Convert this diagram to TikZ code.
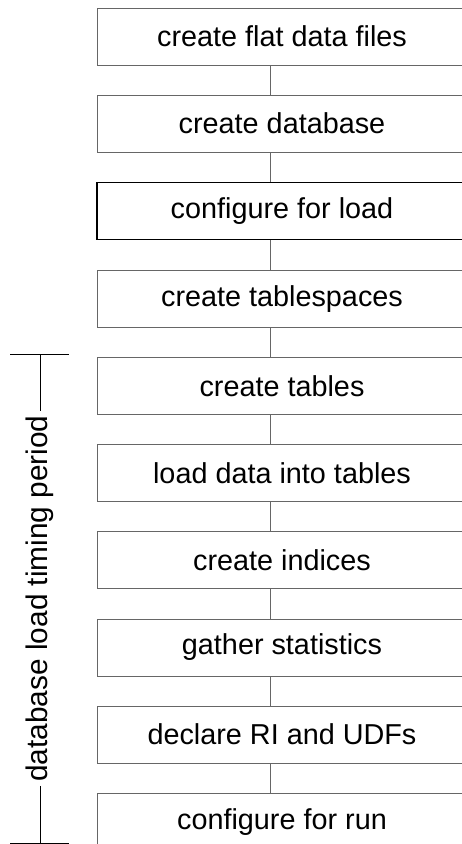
\documentclass[tikz,border=0pt]{standalone}
\usepackage{fontspec}
\setmainfont{Liberation Sans}
\usetikzlibrary{positioning, calc}

\tikzset{
  stage/.style={draw=black!60, line width=0.8pt, minimum width=370pt,
    minimum height=57pt, inner sep=0pt, font=\fontsize{28.8}{34}\selectfont},
  link/.style={draw=black!60, line width=0.8pt}
}

\begin{document}
\begin{tikzpicture}[x=1pt, y=1pt, node distance=29.4pt]
    \useasboundingbox (0,0) rectangle (462,-844);

    % the load steps, top to bottom
    \node[stage] (flat) at (282,-36.5) {create flat data files};
    \node[stage, below=of flat] (db) {create database};
    \node[stage, below=of db, draw=black, line width=1.3pt] (cfgload) {configure for load};
    \node[stage, below=of cfgload] (tbs) {create tablespaces};
    \node[stage, below=of tbs] (tabs) {create tables};
    \node[stage, below=of tabs] (load) {load data into tables};
    \node[stage, below=of load] (idx) {create indices};
    \node[stage, below=of idx] (stats) {gather statistics};
    \node[stage, below=of stats] (ri) {declare RI and UDFs};
    \node[stage, below=of ri] (cfgrun) {configure for run};

    \path[link]
    ([xshift=-12pt]flat.south) edge ([xshift=-12pt]db.north)
    ([xshift=-12pt]db.south) edge ([xshift=-12pt]cfgload.north)
    ([xshift=-12pt]cfgload.south) edge ([xshift=-12pt]tbs.north)
    ([xshift=-12pt]tbs.south) edge ([xshift=-12pt]tabs.north)
    ([xshift=-12pt]tabs.south) edge ([xshift=-12pt]load.north)
    ([xshift=-12pt]load.south) edge ([xshift=-12pt]idx.north)
    ([xshift=-12pt]idx.south) edge ([xshift=-12pt]stats.north)
    ([xshift=-12pt]stats.south) edge ([xshift=-12pt]ri.north)
    ([xshift=-12pt]ri.south) edge ([xshift=-12pt]cfgrun.north)
    ;

    % timing bracket on the left
    \coordinate (ttop) at (40,-354);
    \coordinate (tbot) at (40,-843);
    \node[rotate=90, inner xsep=4pt, font=\fontsize{29.8}{34}\selectfont] (period)
        at ($(ttop)!0.5!(tbot)$) {database load timing period};
    \draw[black, line width=0.8pt] (ttop) -- (period.east)
        (period.west) -- (tbot)
        ([xshift=-30pt]ttop) -- ([xshift=29pt]ttop)
        ([xshift=-30pt]tbot) -- ([xshift=29pt]tbot);
\end{tikzpicture}
\end{document}
